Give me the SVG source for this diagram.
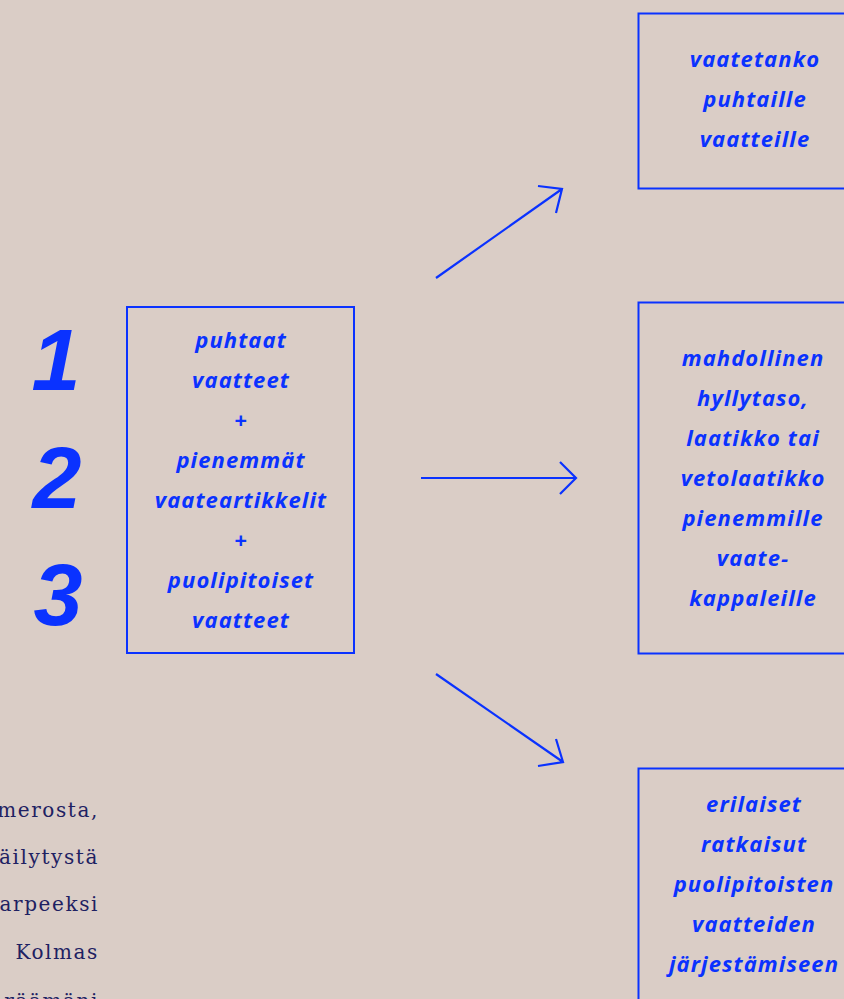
<svg xmlns="http://www.w3.org/2000/svg" width="844" height="999" viewBox="0 0 844 999">
<style>
.box{fill:none;stroke:#0a32ff;stroke-width:2}
.lbl{font-family:"Open Sans",sans-serif;font-weight:700;font-style:italic;font-size:22px;fill:#0a32ff;text-anchor:middle;letter-spacing:1.1px}
.num{font-family:"Liberation Sans",Arial,sans-serif;font-weight:700;font-style:italic;font-size:88px;fill:#0a32ff;text-anchor:middle}
.body{font-family:"DejaVu Serif","Liberation Serif",serif;font-size:20px;fill:#1e2162;text-anchor:end;letter-spacing:1.6px}
.ar{fill:none;stroke:#0a32ff;stroke-width:2.2;stroke-linecap:butt}
</style>
<rect width="844" height="999" fill="#dacdc6"/>
<g id="numbers">
<text class="num" x="56" y="390">1</text>
<text class="num" x="57" y="508">2</text>
<text class="num" x="58" y="625">3</text>
</g>
<g id="body-text">
<text class="body" x="99" y="817">merosta,</text>
<text class="body" x="99" y="864">äilytystä</text>
<text class="body" x="99" y="911">arpeeksi</text>
<text class="body" x="99" y="959">Kolmas</text>
<text class="body" x="99" y="1008">räämäni</text>
</g>
<g id="center">
<rect class="box" x="127" y="307" width="227" height="346"/>
<text class="lbl" x="241" y="348">puhtaat</text>
<text class="lbl" x="241" y="388">vaatteet</text>
<text class="lbl" x="241" y="428">+</text>
<text class="lbl" x="241" y="468">pienemmät</text>
<text class="lbl" x="241" y="508">vaateartikkelit</text>
<text class="lbl" x="241" y="548">+</text>
<text class="lbl" x="241" y="588">puolipitoiset</text>
<text class="lbl" x="241" y="628">vaatteet</text>
</g>
<g id="top">
<rect class="box" x="638.5" y="13.5" width="220" height="175"/>
<text class="lbl" x="755" y="67">vaatetanko</text>
<text class="lbl" x="755" y="107">puhtaille</text>
<text class="lbl" x="755" y="147">vaatteille</text>
</g>
<g id="middle">
<rect class="box" x="638.5" y="302.5" width="220" height="351"/>
<text class="lbl" x="753" y="366">mahdollinen</text>
<text class="lbl" x="753" y="406">hyllytaso,</text>
<text class="lbl" x="753" y="446">laatikko tai</text>
<text class="lbl" x="753" y="486">vetolaatikko</text>
<text class="lbl" x="753" y="526">pienemmille</text>
<text class="lbl" x="753" y="566">vaate-</text>
<text class="lbl" x="753" y="606">kappaleille</text>
</g>
<g id="bottom">
<rect class="box" x="638.5" y="768.5" width="220" height="250"/>
<text class="lbl" x="754" y="812">erilaiset</text>
<text class="lbl" x="754" y="852">ratkaisut</text>
<text class="lbl" x="754" y="892">puolipitoisten</text>
<text class="lbl" x="754" y="932">vaatteiden</text>
<text class="lbl" x="754" y="972">järjestämiseen</text>
</g>
<g id="connectors">
<path class="ar" d="M436,278 L562,189 M538,186 L562,189 L556,213"/>
<path class="ar" d="M421,478 L576,478 M560,462 L576,478 L560,494"/>
<path class="ar" d="M436,674 L563,762 M538,766 L563,762 L556,739"/>
</g>
</svg>
